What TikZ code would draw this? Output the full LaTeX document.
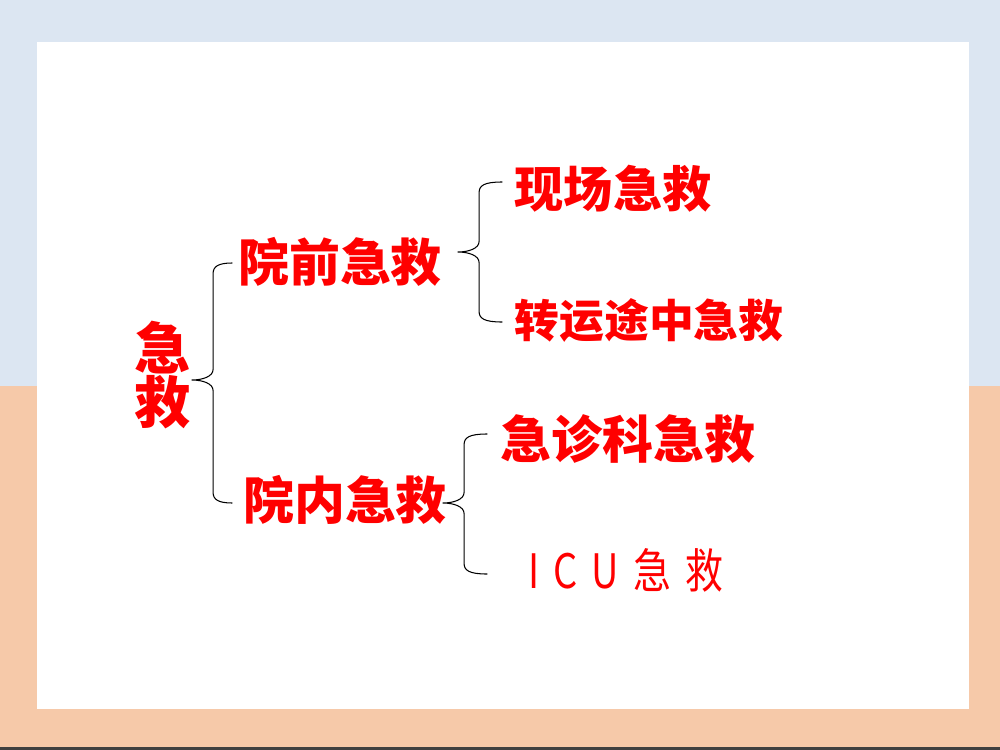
\documentclass[tikz,border=0pt]{standalone}
\usepackage{fontspec}
\usetikzlibrary{calc}
\newfontfamily\cjk{Noto Sans CJK SC}
\newfontfamily\cjkn{Noto Sans CJK SC}[FakeStretch=0.8,LetterSpace=30]
\definecolor{skyblue}{RGB}{220,230,242}
\definecolor{peach}{RGB}{246,201,169}
\definecolor{hired}{RGB}{255,0,0}
% curly brace: tip, top end, bottom end
\newcommand\curly[3]{%
	\draw[brace] let \p1=(#1), \p2=(#2), \p3=(#3) in
	(\x2,\y2) .. controls (\x1+15pt,\y2) and (\x1+12pt,\y2-2pt) .. (\x1+12pt,\y2-6pt)
	-- (\x1+12pt,\y1+6pt) .. controls (\x1+12pt,\y1+2pt) and (\x1+6pt,\y1) .. (\x1,\y1)
	.. controls (\x1+6pt,\y1) and (\x1+12pt,\y1-2pt) .. (\x1+12pt,\y1-6pt)
	-- (\x1+12pt,\y3+6pt) .. controls (\x1+12pt,\y3+2pt) and (\x1+15pt,\y3) .. (\x2,\y3);}
\begin{document}
\begin{tikzpicture}[x=0.02cm,y=-0.02cm, line join = round, line cap = round]
	\tikzset{brace/.style={black,line width=0.6pt},
		lab/.style={text=hired,inner sep=0pt,font=\cjk\bfseries\fontsize{#1}{#1}\selectfont},
		lab/.default=29}
	% background
	\fill[skyblue] (0,0) rectangle (1000,386);
	\fill[peach] (0,386) rectangle (1000,750);
	\fill[black!75] (0,747) rectangle (1000,750);
	\fill[white] (37,42) rectangle (969,709);
	\useasboundingbox (0,0) rectangle (1000,750);
	% labels
	\node[lab, align=center, font=\cjk\bfseries\fontsize{32}{31}\selectfont] (ji) at (163,375) {急\\救};
	\node[lab] (pre) at (340,262) {院前急救};
	\node[lab] (nei) at (345,500) {院内急救};
	\node[lab=28] (xc) at (613,189) {现场急救};
	\node[lab=25.5] (zy) at (649,320) {转运途中急救};
	\node[lab] (jz) at (628,439) {急诊科急救};
	\node[text=hired,inner sep=0pt,font=\cjkn\fontsize{27}{27}\selectfont] (icu) at (626,570) {ICU急救};
	% braces
	\coordinate (tA) at (192,380);
	\coordinate (tB) at (458,252);
	\coordinate (tC) at (443,503);
	\coordinate (eA) at (232,263);
	\coordinate (eB) at (502,182);
	\coordinate (eC) at (487,434);
	\curly{tA}{eA}{$(eA)+(0,240)$}
	\curly{tB}{eB}{$(eB)+(0,140)$}
	\curly{tC}{eC}{$(eC)+(0,140)$}
\end{tikzpicture}
\end{document}
